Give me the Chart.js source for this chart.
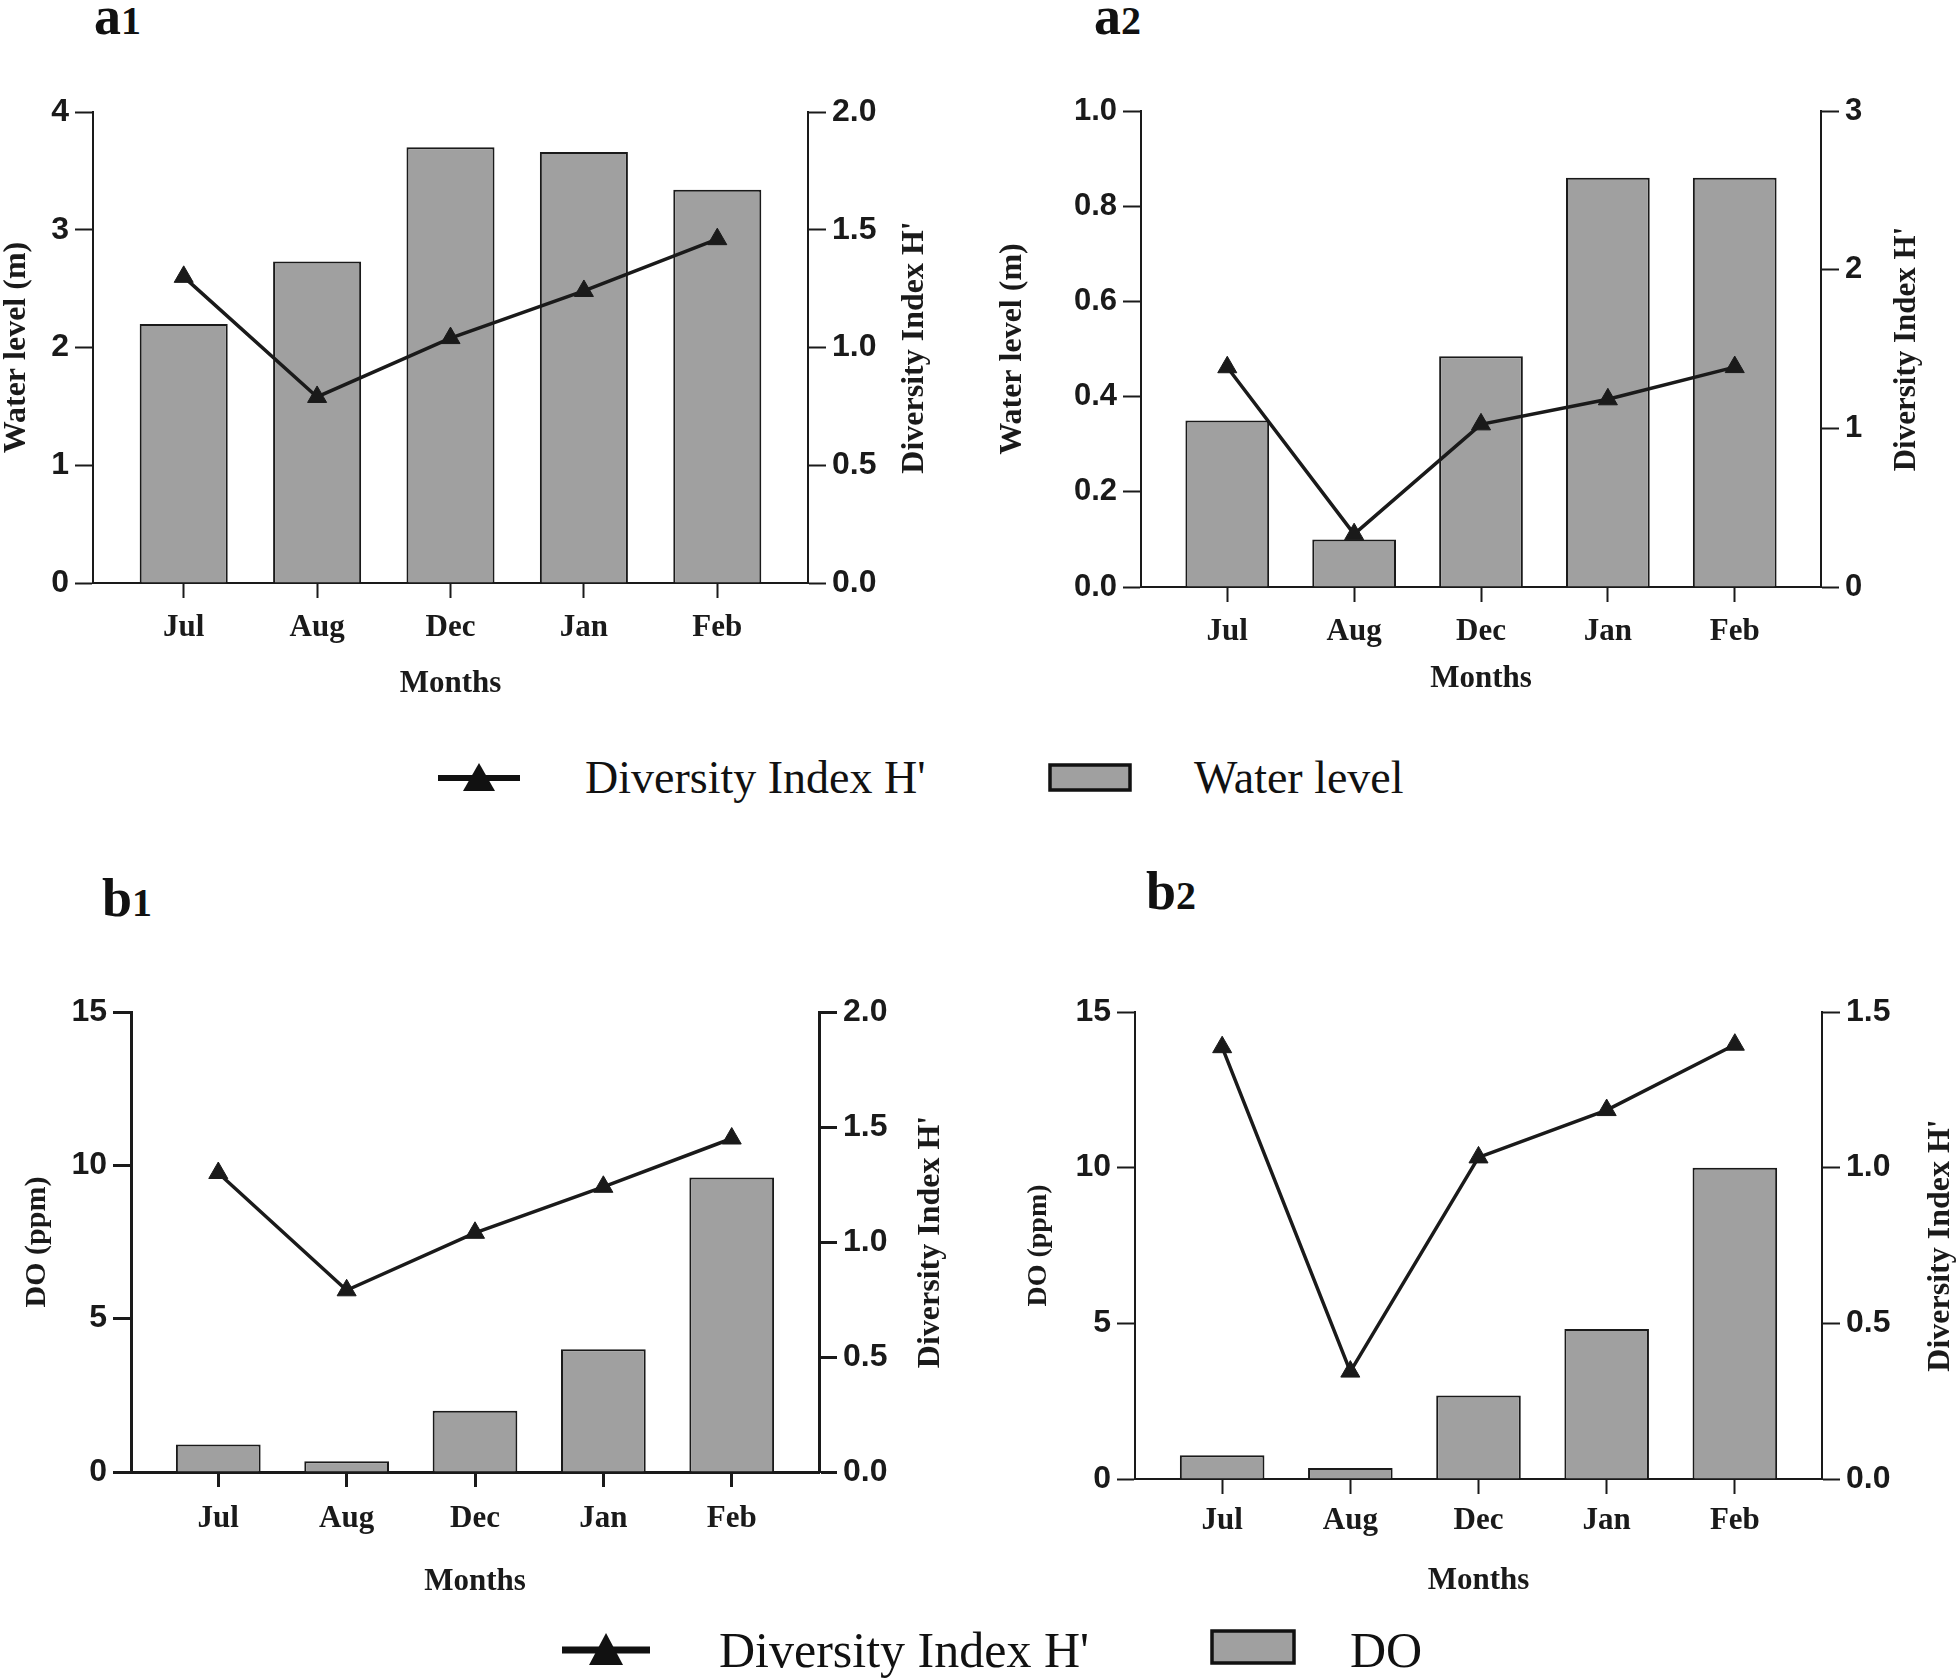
<!doctype html>
<html>
<head>
<meta charset="utf-8">
<title>Water level, DO and diversity index</title>
<script src="https://cdn.jsdelivr.net/npm/chart.js@4.4.1/dist/chart.umd.min.js"></script>
<style>
  html, body { margin: 0; padding: 0; background: #fff; }
  body { position: relative; width: 1960px; height: 1680px; overflow: hidden; }
  canvas { position: absolute; }
  .panel-label {
    position: absolute; font-family: "Liberation Serif", "DejaVu Serif", serif;
    font-weight: bold; font-size: 54px; line-height: 54px; color: #111;
  }
  .panel-label span { font-size: 40px; }
  .legend-item {
    position: absolute; font-family: "Liberation Serif", "DejaVu Serif", serif;
    color: #111; white-space: nowrap;
  }
  .legend-icon { position: absolute; }
</style>
</head>
<body>

<div class="panel-label" style="left:94px; top:-11px">a<span>1</span></div>
<div class="panel-label" style="left:1094px; top:-11px">a<span>2</span></div>
<div class="panel-label" style="left:102px; top:871px">b<span>1</span></div>
<div class="panel-label" style="left:1146px; top:864px">b<span>2</span></div>

<canvas id="chartA1"></canvas>
<canvas id="chartA2"></canvas>
<canvas id="chartB1"></canvas>
<canvas id="chartB2"></canvas>

<!-- legend for the top row -->
<svg class="legend-icon" style="left:436px; top:760px" width="86" height="36">
  <line x1="2" y1="18" x2="84" y2="18" stroke="#111" stroke-width="6"/>
  <polygon points="43,3 59,31 27,31" fill="#111"/>
</svg>
<div class="legend-item" style="left:585px; top:755px; font-size:46px; line-height:46px">Diversity Index H'</div>
<svg class="legend-icon" style="left:1048px; top:763px" width="86" height="30">
  <rect x="2" y="2" width="80" height="25" fill="#a0a0a0" stroke="#111" stroke-width="3.5"/>
</svg>
<div class="legend-item" style="left:1194px; top:755px; font-size:46px; line-height:46px">Water level</div>

<!-- legend for the bottom row -->
<svg class="legend-icon" style="left:560px; top:1630px" width="92" height="40">
  <line x1="2" y1="20" x2="90" y2="20" stroke="#111" stroke-width="7"/>
  <polygon points="46,3 63,35 29,35" fill="#111"/>
</svg>
<div class="legend-item" style="left:719px; top:1625px; font-size:50px; line-height:50px">Diversity Index H'</div>
<svg class="legend-icon" style="left:1210px; top:1629px" width="88" height="38">
  <rect x="2" y="2" width="82" height="32" fill="#a0a0a0" stroke="#111" stroke-width="3.5"/>
</svg>
<div class="legend-item" style="left:1350px; top:1625px; font-size:50px; line-height:50px">DO</div>

<script>
// ---- data ----
const months = ['Jul', 'Aug', 'Dec', 'Jan', 'Feb'];

const waterLevelA1 = [2.20, 2.73, 3.70, 3.66, 3.34];
const diversityA1  = [1.30, 0.79, 1.04, 1.24, 1.46];

const waterLevelA2 = [0.35, 0.10, 0.485, 0.86, 0.86];
const diversityA2  = [1.385, 0.333, 1.025, 1.183, 1.386];

const doB1        = [0.90, 0.35, 2.00, 4.00, 9.60];
const diversityB1 = [1.30, 0.79, 1.04, 1.24, 1.45];

const doB2        = [0.76, 0.35, 2.68, 4.82, 10.0];
const diversityB2 = [1.387, 0.345, 1.033, 1.185, 1.395];

const SANS = '"Liberation Sans", Arial, sans-serif';
const SERIF = '"Liberation Serif", "Times New Roman", serif';
const INK = '#1a1a1a';

// right hand axis title, rotated the same way as the left one
const rightTitlePlugin = {
  id: 'rightTitle',
  afterDraw(chart, args, opts) {
    if (!opts.text) return;
    const ctx = chart.ctx, area = chart.chartArea;
    ctx.save();
    ctx.translate(opts.x, (area.top + area.bottom) / 2);
    ctx.rotate(-Math.PI / 2);
    ctx.font = opts.font;
    ctx.fillStyle = INK;
    ctx.textAlign = 'center';
    ctx.textBaseline = 'middle';
    ctx.fillText(opts.text, 0, 0);
    ctx.restore();
  }
};

function makePanel(p) {
  const box = {
    left: p.leftTitleX - 20,
    top: p.area.t - 40,
    right: p.rightTitleX + 20,
    bottom: p.monthsY + 30
  };
  const canvas = document.getElementById(p.id);
  canvas.width = box.right - box.left;
  canvas.height = box.bottom - box.top;
  canvas.style.left = box.left + 'px';
  canvas.style.top = box.top + 'px';

  const lw = p.axisWidth;
  const gridOpts = { display: true, drawOnChartArea: false, drawTicks: true,
                     tickLength: 18, tickColor: INK, tickWidth: lw };
  const borderOpts = { display: true, color: INK, width: lw };
  const tickFont = { family: SANS, size: p.tickSize, weight: 'bold' };
  const leftTitleSize = p.leftTitleSize;

  new Chart(canvas, {
    type: 'bar',
    data: {
      datasets: [{
        type: 'line',
        label: "Diversity Index H'",
        data: p.diversity.map((v, i) => ({ x: i, y: v })),
        yAxisID: 'y1',
        borderColor: INK,
        borderWidth: 3.5,
        pointStyle: 'triangle',
        pointRadius: 11,
        pointBackgroundColor: INK,
        pointBorderColor: INK,
        pointBorderWidth: 1,
        tension: 0,
        order: 0
      }, {
        type: 'bar',
        label: p.barLabel,
        data: p.bars.map((v, i) => ({ x: i, y: v })),
        yAxisID: 'y',
        backgroundColor: '#a0a0a0',
        borderColor: INK,
        borderWidth: 2,
        barPercentage: 0.66,
        categoryPercentage: 1,
        order: 1
      }]
    },
    options: {
      responsive: false,
      animation: false,
      layout: { padding: { top: p.area.t - box.top, left: 0, right: 0, bottom: 0 } },
      plugins: {
        legend: { display: false },
        tooltip: { enabled: false },
        rightTitle: {
          text: "Diversity Index H'",
          x: p.rightTitleX - box.left,
          font: 'bold ' + p.rightTitleSize + 'px ' + SERIF
        }
      },
      scales: {
        x: {
          type: 'linear',
          min: -0.68, max: 4.68,
          offset: false,
          grid: Object.assign({}, gridOpts, { offset: false, tickLength: 15 }),
          border: borderOpts,
          afterBuildTicks: axis => { axis.ticks = months.map((m, i) => ({ value: i })); },
          afterFit: axis => { axis.height = box.bottom - p.area.b; },
          ticks: {
            callback: v => months[v],
            color: INK, padding: p.xTickPad, maxRotation: 0,
            font: { family: SERIF, size: 31, weight: 'bold' }
          },
          title: {
            display: true, text: 'Months', color: INK,
            font: { family: SERIF, size: 31, weight: 'bold' },
            padding: { top: 0, bottom: 30 - 31 * 0.6 }
          }
        },
        y: {
          position: 'left',
          min: 0, max: p.yMax,
          grid: gridOpts,
          border: borderOpts,
          afterFit: axis => { axis.width = p.area.l - box.left; },
          ticks: {
            stepSize: p.yStep, color: INK, padding: 6, font: tickFont,
            callback: v => v.toFixed(p.yDigits)
          },
          title: {
            display: true, text: p.leftTitle, color: INK,
            font: { family: SERIF, size: leftTitleSize, weight: 'bold' },
            padding: { top: 20 - leftTitleSize * 0.6, bottom: 0 }
          }
        },
        y1: {
          position: 'right',
          min: 0, max: p.y1Max,
          grid: gridOpts,
          border: borderOpts,
          afterFit: axis => { axis.width = box.right - p.area.r; },
          ticks: {
            stepSize: p.y1Step, color: INK, padding: 6, font: tickFont,
            callback: v => v.toFixed(p.y1Digits)
          }
        }
      }
    },
    plugins: [rightTitlePlugin]
  });
}

makePanel({
  id: 'chartA1', bars: waterLevelA1, diversity: diversityA1, barLabel: 'Water level',
  area: { l: 93, t: 112, r: 808, b: 583 },
  leftTitleX: 17, rightTitleX: 915, monthsY: 684, xTickPad: 11,
  leftTitle: 'Water level (m)', leftTitleSize: 32, rightTitleSize: 32,
  yMax: 4, yStep: 1, yDigits: 0, y1Max: 2, y1Step: 0.5, y1Digits: 1,
  tickSize: 32, axisWidth: 2
});

makePanel({
  id: 'chartA2', bars: waterLevelA2, diversity: diversityA2, barLabel: 'Water level',
  area: { l: 1141, t: 111, r: 1821, b: 587 },
  leftTitleX: 1013, rightTitleX: 1907, monthsY: 679, xTickPad: 11,
  leftTitle: 'Water level (m)', leftTitleSize: 32, rightTitleSize: 31,
  yMax: 1, yStep: 0.2, yDigits: 1, y1Max: 3, y1Step: 1, y1Digits: 0,
  tickSize: 31, axisWidth: 2
});

makePanel({
  id: 'chartB1', bars: doB1, diversity: diversityB1, barLabel: 'DO',
  area: { l: 131, t: 1012, r: 819, b: 1472 },
  leftTitleX: 37, rightTitleX: 931, monthsY: 1582, xTickPad: 13,
  leftTitle: 'DO (ppm)', leftTitleSize: 30, rightTitleSize: 32,
  yMax: 15, yStep: 5, yDigits: 0, y1Max: 2, y1Step: 0.5, y1Digits: 1,
  tickSize: 32, axisWidth: 3
});

makePanel({
  id: 'chartB2', bars: doB2, diversity: diversityB2, barLabel: 'DO',
  area: { l: 1135, t: 1012, r: 1822, b: 1479 },
  leftTitleX: 1039, rightTitleX: 1941, monthsY: 1581, xTickPad: 8,
  leftTitle: 'DO (ppm)', leftTitleSize: 28, rightTitleSize: 32,
  yMax: 15, yStep: 5, yDigits: 0, y1Max: 1.5, y1Step: 0.5, y1Digits: 1,
  tickSize: 32, axisWidth: 2
});
</script>
</body>
</html>
